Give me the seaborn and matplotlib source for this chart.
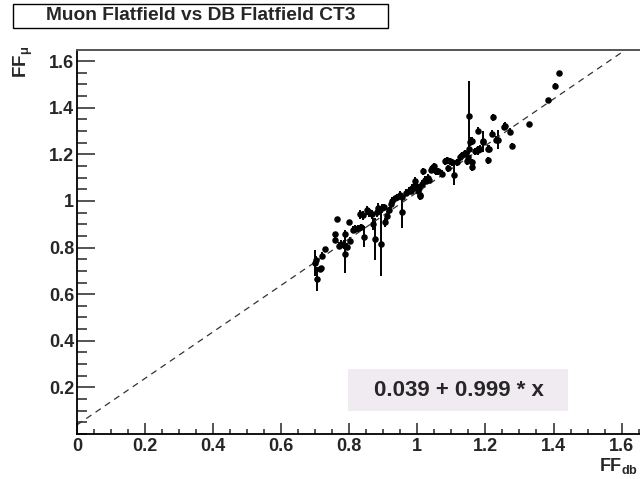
import numpy as np
import matplotlib
matplotlib.use("Agg")
import matplotlib.pyplot as plt
import seaborn as sns
from matplotlib.patches import Rectangle
from matplotlib.ticker import MultipleLocator

# FF from DB (x), FF from muons (y), error on y
ff_db = [0.698, 0.701, 0.705, 0.713, 0.716, 0.721, 0.730, 0.759, 0.765, 0.759,
         0.771, 0.777, 0.783, 0.788, 0.788, 0.794, 0.803, 0.800, 0.812, 0.817,
         0.826, 0.832, 0.835, 0.844, 0.841, 0.852, 0.858, 0.867, 0.870, 0.876,
         0.881, 0.884, 0.893, 0.896, 0.902, 0.905, 0.911, 0.916, 0.922, 0.925,
         0.934, 0.940, 0.948, 0.954, 0.954, 0.966, 0.975, 0.980, 0.986, 0.992,
         1.001, 1.007, 1.015, 1.024, 1.033, 0.983, 0.992, 1.004, 1.009, 1.018,
         1.021, 1.030, 1.039, 1.044, 1.050, 1.056, 1.062, 1.073, 1.082, 1.088,
         1.091, 1.097, 1.103, 1.108, 1.117, 1.126, 1.132, 1.140, 1.146, 1.152,
         1.155, 1.161, 1.169, 1.178, 1.184, 1.193, 1.207, 1.207, 1.152, 1.178,
         1.222, 1.219, 1.257, 1.254, 1.271, 1.327, 1.236, 1.231, 1.193, 1.161,
         1.210, 1.277, 1.161, 1.149, 1.178, 1.385, 1.405, 1.417]
ff_mu = [0.735, 0.745, 0.665, 0.707, 0.712, 0.766, 0.792, 0.859, 0.922, 0.834,
         0.808, 0.817, 0.813, 0.771, 0.859, 0.804, 0.829, 0.909, 0.876, 0.880,
         0.884, 0.943, 0.888, 0.846, 0.939, 0.960, 0.952, 0.943, 0.901, 0.838,
         0.952, 0.968, 0.817, 0.968, 0.973, 0.909, 0.935, 0.960, 0.985, 1.002,
         1.011, 1.019, 1.027, 0.952, 1.015, 1.036, 1.044, 1.044, 1.057, 1.069,
         1.044, 1.027, 1.074, 1.086, 1.091, 1.057, 1.086, 1.057, 1.023, 1.128,
         1.091, 1.099, 1.133, 1.141, 1.149, 1.128, 1.128, 1.116, 1.171, 1.175,
         1.141, 1.171, 1.166, 1.112, 1.166, 1.187, 1.196, 1.204, 1.171, 1.221,
         1.255, 1.145, 1.213, 1.217, 1.225, 1.255, 1.225, 1.175, 1.364, 1.301,
         1.360, 1.288, 1.322, 1.318, 1.297, 1.331, 1.263, 1.263, 1.259, 1.259,
         1.225, 1.238, 1.166, 1.187, 1.221, 1.432, 1.495, 1.549]
ff_err = [0.055, 0.020, 0.050, 0.010, 0.010, 0.015, 0.010, 0.010, 0.010, 0.010,
          0.015, 0.015, 0.020, 0.080, 0.015, 0.015, 0.015, 0.010, 0.015, 0.015,
          0.015, 0.020, 0.015, 0.045, 0.020, 0.020, 0.020, 0.020, 0.025, 0.090,
          0.020, 0.025, 0.140, 0.020, 0.015, 0.020, 0.020, 0.015, 0.015, 0.015,
          0.010, 0.010, 0.015, 0.070, 0.015, 0.015, 0.015, 0.010, 0.015, 0.020,
          0.015, 0.015, 0.015, 0.015, 0.015, 0.015, 0.015, 0.015, 0.020, 0.015,
          0.015, 0.015, 0.015, 0.015, 0.015, 0.015, 0.015, 0.015, 0.015, 0.015,
          0.015, 0.015, 0.015, 0.045, 0.015, 0.015, 0.015, 0.015, 0.015, 0.020,
          0.020, 0.015, 0.015, 0.020, 0.015, 0.045, 0.015, 0.015, 0.150, 0.015,
          0.015, 0.015, 0.015, 0.015, 0.015, 0.010, 0.040, 0.015, 0.015, 0.015,
          0.015, 0.010, 0.015, 0.015, 0.015, 0.010, 0.010, 0.010]

# fit result
p0, p1 = 0.039, 0.999
fit_x = [0.0, 1.66]

sns.set_style("white")
plt.rcParams['font.family'] = ['Liberation Sans', 'DejaVu Sans']
plt.rcParams['mathtext.fontset'] = 'custom'
plt.rcParams['mathtext.rm'] = 'Liberation Sans:bold'
plt.rcParams['mathtext.it'] = 'Liberation Sans:bold'
plt.rcParams['mathtext.bf'] = 'Liberation Sans:bold'

fig = plt.figure(figsize=(6.4, 4.79), dpi=100)
ax = fig.add_axes([77 / 640, 45 / 479, 565 / 640, 384 / 479])

ax.errorbar(ff_db, ff_mu, yerr=ff_err, fmt='none', ecolor='black', elinewidth=1.4, capsize=0)
sns.scatterplot(x=ff_db, y=ff_mu, ax=ax, color='black', s=22, edgecolor='black', linewidth=0, zorder=3)

fit_y = [p0 + p1 * v for v in fit_x]
sns.lineplot(x=fit_x, y=fit_y, ax=ax, color='#333333', linestyle=(0, (5, 4)), linewidth=0.9)

ax.set_xlim(0, 1.66)
ax.set_ylim(0, 1.648)
ax.xaxis.set_minor_locator(MultipleLocator(0.05))
ax.yaxis.set_minor_locator(MultipleLocator(0.05))
ax.set_xticks([0, 0.2, 0.4, 0.6, 0.8, 1.0, 1.2, 1.4, 1.6])
ax.set_xticklabels(['0', '0.2', '0.4', '0.6', '0.8', '1', '1.2', '1.4', '1.6'])
ax.set_yticks([0.2, 0.4, 0.6, 0.8, 1.0, 1.2, 1.4, 1.6])
ax.set_yticklabels(['0.2', '0.4', '0.6', '0.8', '1', '1.2', '1.4', '1.6'])

ax.tick_params(axis='x', which='major', direction='in', length=8, width=1.1,
               labelsize=13, pad=3, bottom=True, top=False)
ax.tick_params(axis='x', which='minor', direction='in', length=3.8, width=1.1,
               bottom=True, top=False)
ax.tick_params(axis='y', which='major', direction='in', length=13, width=1.1,
               labelsize=13, pad=2, left=True, right=False)
ax.tick_params(axis='y', which='minor', direction='in', length=7, width=1.1,
               left=True, right=False)
for lab in ax.get_xticklabels() + ax.get_yticklabels():
    lab.set_fontweight('bold')

for side in ['left', 'bottom']:
    ax.spines[side].set_color('black')
    ax.spines[side].set_linewidth(1.3)
ax.spines['top'].set_color('#555555')
ax.spines['top'].set_linewidth(1.4)
ax.spines['right'].set_visible(False)

# title box
fig.patches.append(Rectangle((13 / 640, 1 - 28 / 479), 375 / 640, 24 / 479,
                             transform=fig.transFigure, facecolor='white',
                             edgecolor='black', linewidth=1.0))
fig.text(201 / 640, 1 - 16 / 479, 'Muon Flatfield vs DB Flatfield CT3',
         ha='center', va='center', fontsize=13.8, fontweight='bold')

# fit result box
fig.patches.append(Rectangle((348 / 640, (479 - 411) / 479), 220 / 640, 42 / 479,
                             transform=fig.transFigure, facecolor='#f0ebf0',
                             edgecolor='none', zorder=5))
fig.text(459 / 640, (479 - 390) / 479, '0.039 + 0.999 * x',
         ha='center', va='center', fontsize=16, fontweight='bold', zorder=6)

# axis labels
fig.text(23 / 640, 1 - 62 / 479, r'FF$_{\mu}$', rotation=90, ha='center', va='center',
         fontsize=13.5, fontweight='bold')
fig.text(638 / 640, (479 - 466) / 479, r'FF$_{\mathrm{db}}$', ha='right', va='center',
         fontsize=13, fontweight='bold')

fig.savefig('out.png', dpi=100, facecolor='white')
